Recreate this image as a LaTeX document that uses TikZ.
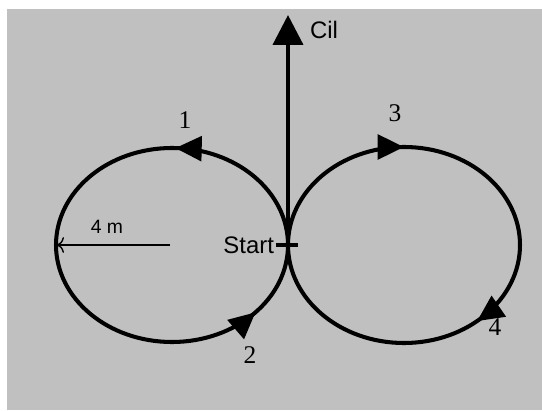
\documentclass[tikz,border=0pt]{standalone}
\usepackage{fontspec}
\setmainfont{Liberation Serif}
\setsansfont{Liberation Sans}
\usetikzlibrary{arrows.meta, positioning, decorations.markings}
\definecolor{silverbg}{RGB}{192,192,192}

\begin{document}
\begin{tikzpicture}[
    x=0.02cm, y=0.02cm,
    loop/.style={line width=2.3pt, draw=black, postaction={decorate}},
    thickline/.style={line width=2.3pt, draw=black},
    numlabel/.style={font=\fontsize{14.5}{16}\selectfont, inner sep=0pt},
    textlabel/.style={font=\sffamily\fontsize{13.6}{15}\selectfont, inner sep=1pt}
]
\useasboundingbox (0,0) rectangle (542,410);
\fill[silverbg] (7,0) rectangle (542,401);

% --- Punkte ---
\coordinate (kreuz) at (288,165);
\coordinate (ziel) at (288,395);
\coordinate (mitte) at (170,165);
\coordinate (rand) at (57,165);
\coordinate (tickL) at (276,165);
\coordinate (tickR) at (298,165);

% --- Kreise ---
\draw[loop, decoration={markings,
    mark=at position 0.245 with {\arrow{Triangle[length=15pt,width=14pt]}},
    mark=at position 0.885 with {\arrow{Triangle[length=15pt,width=14pt]}}}]
    (kreuz) arc[start angle=0, end angle=360, x radius=116, y radius=97];
\draw[loop, decoration={markings,
    mark=at position 0.25 with {\arrow{Triangle[length=15pt,width=14pt]}},
    mark=at position 0.635 with {\arrow{Triangle[length=15pt,width=14pt]}}}]
    (kreuz) arc[start angle=180, end angle=-180, x radius=116, y radius=98];

% --- Pfeil nach oben ---
\draw[thickline, -{Triangle[length=17pt,width=17pt]}] (kreuz) -- (ziel);
\node[textlabel, anchor=west] (cil) at (308,380) {Cil};

% --- Start ---
\draw[thickline] (tickL) -- (tickR);
\node[textlabel, left=0pt of tickL] (start) {Start};

% --- Radius ---
\draw[line width=0.8pt, -{To[length=4pt,width=9pt]}] (mitte) -- (rand);
\node[font=\sffamily\fontsize{11}{13}\selectfont] (radius) at (107,183) {4 m};

% --- Nummern ---
\node[numlabel] (n1) at (185,290) {1};
\node[numlabel] (n2) at (250,55) {2};
\node[numlabel] (n3) at (395,297) {3};
\node[numlabel] (n4) at (495,83) {4};

\end{tikzpicture}
\end{document}
